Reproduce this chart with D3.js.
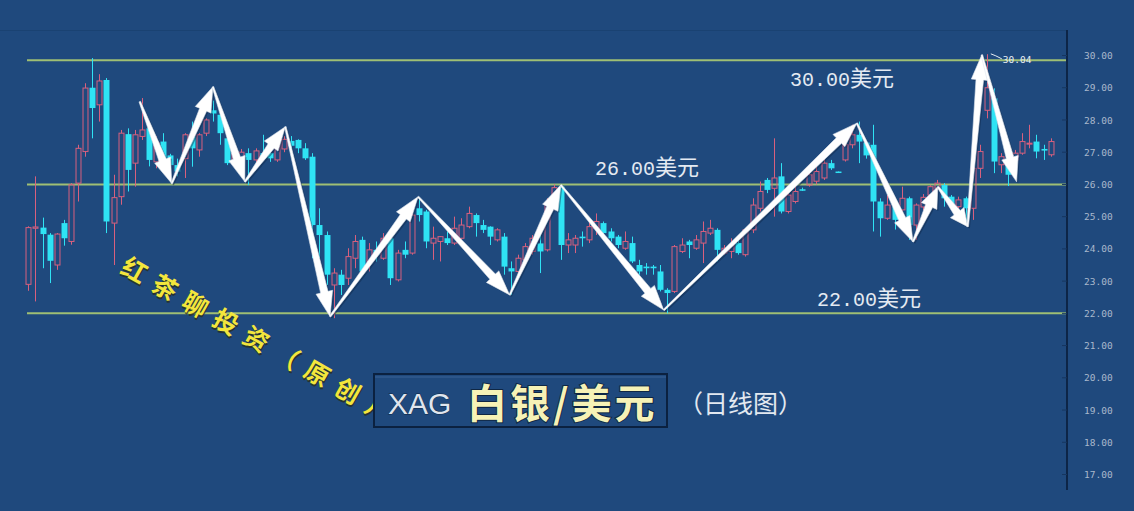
<!DOCTYPE html>
<html><head><meta charset="utf-8">
<script src="https://cdn.jsdelivr.net/npm/d3@7"></script>
<style>html,body{margin:0;padding:0;background:#1f497d;overflow:hidden}</style>
</head><body><svg id="c" width="1134" height="511"></svg>
<script>
// ---- data (daily candles, XAG/USD) ----
const opens = [22.9,24.64,24.66,24.44,23.5,24.8,24.23,26.04,27.02,29.0,28.47,29.24,24.8,25.62,27.56,26.66,27.49,27.74,26.7,27.33,26.9,26.6,26.8,27.49,27.07,27.59,28.3,28.16,27.43,26.66,26.7,26.97,26.76,26.97,26.97,26.76,27.1,27.35,27.38,27.12,26.86,24.74,24.43,22.88,23.2,23.09,23.71,24.28,23.61,23.97,23.71,24.33,23.04,23.97,23.87,25.26,25.16,24.18,24.23,24.33,24.18,24.33,24.69,25.05,24.74,24.69,24.28,24.38,23.4,23.3,23.66,23.92,24.17,23.97,25.3,25.93,24.12,24.12,24.38,24.28,24.64,24.8,24.54,24.38,24.02,24.18,23.5,23.45,23.45,23.3,22.73,22.68,23.92,24.23,24.02,24.18,24.49,24.59,23.87,23.92,24.18,23.82,24.59,25.26,26.14,25.88,26.25,25.16,25.47,25.85,25.98,26.1,26.2,26.66,26.4,26.76,27.23,27.54,27.3,27.23,25.47,24.95,25.3,25.21,25.57,24.74,25.3,25.67,25.88,25.98,25.62,25.31,25.57,25.26,26.5,28.3,28.67,26.61,26.8,26.76,26.97,27.25,27.33,27.1,26.92];
const highs = [24.7,26.25,24.97,24.49,24.49,24.9,26.04,27.23,29.14,29.92,29.42,29.3,26.3,27.69,27.74,27.69,28.68,27.8,27.5,27.59,26.95,26.8,27.59,27.95,27.59,28.05,28.6,28.26,27.69,27.07,27.1,27.12,27.12,27.54,27.0,27.35,27.5,27.5,27.4,27.28,26.97,25.26,24.54,23.4,23.35,24.02,24.43,24.38,24.18,24.23,24.49,24.38,23.97,24.23,25.16,25.57,25.21,24.69,24.4,24.54,25.0,24.95,25.31,25.1,24.9,24.7,24.64,24.49,23.61,23.82,24.18,24.43,24.43,25.57,26.0,25.98,24.49,24.43,24.54,24.9,25.1,24.85,24.64,24.43,24.54,24.38,23.66,23.56,23.5,23.5,22.78,24.12,24.33,24.28,24.43,24.85,24.9,24.64,24.12,24.33,24.33,24.64,25.57,26.09,26.2,27.43,26.66,25.78,25.98,25.9,26.4,26.6,26.81,26.76,26.4,27.33,27.85,27.95,27.3,27.85,25.57,25.67,25.4,25.93,25.62,25.41,25.7,25.98,26.14,26.04,25.67,25.62,25.62,26.61,27.23,30.04,28.98,26.97,26.9,27.07,27.59,27.85,27.54,27.23,27.43];
const lows = [22.7,22.37,23.4,22.94,23.35,24.1,24.13,25.47,26.86,27.43,27.95,24.49,23.5,25.37,25.78,25.93,27.38,26.56,26.5,26.5,26.2,26.25,26.2,26.55,26.86,27.5,27.95,27.23,26.6,26.6,26.62,25.98,26.66,26.76,26.7,26.7,27.0,27.0,26.97,26.76,23.71,23.71,22.88,21.85,22.57,22.88,23.4,23.2,23.3,23.61,23.66,22.88,22.99,23.71,23.82,24.85,24.02,23.66,23.61,24.12,24.12,24.28,24.64,24.38,24.49,24.12,24.23,23.2,22.57,23.2,23.61,23.82,23.25,23.92,25.2,23.66,23.87,23.87,24.07,24.18,24.43,24.43,24.23,24.02,23.97,23.56,23.2,23.2,23.2,22.68,22.0,22.63,23.87,23.71,23.97,23.56,24.43,23.61,23.82,23.71,23.82,23.76,24.49,25.16,25.73,25.0,25.1,25.1,25.41,25.8,25.93,26.0,26.14,26.45,26.36,26.71,27.12,26.66,26.8,24.54,24.38,24.9,24.6,24.95,24.28,24.28,25.2,25.62,25.83,25.31,25.26,25.16,24.85,24.9,26.2,28.05,26.35,26.35,25.95,26.61,26.92,27.12,26.81,26.76,26.86];
const closes = [24.66,24.68,24.46,23.63,24.46,24.33,25.99,27.12,28.99,28.37,29.21,24.85,25.59,27.59,26.45,27.54,27.69,26.76,27.3,26.81,26.6,26.4,27.54,27.12,27.54,28.0,28.2,27.59,26.66,26.97,27.0,26.76,27.04,26.81,26.81,27.23,27.4,27.2,27.12,26.81,24.74,24.43,23.2,23.25,22.88,23.76,24.23,23.3,23.97,23.82,24.33,23.09,23.87,23.82,25.05,25.05,24.23,24.33,24.38,24.18,24.64,24.74,25.1,24.8,24.59,24.38,24.59,23.45,23.3,23.71,24.07,24.33,23.92,25.36,25.9,24.12,24.28,24.33,24.33,24.69,24.85,24.49,24.33,24.12,24.23,23.61,23.3,23.4,23.4,22.73,22.63,24.07,24.12,24.12,24.28,24.54,24.64,23.97,24.02,24.12,23.87,24.59,25.36,25.78,25.83,26.2,25.16,25.67,25.78,25.83,26.3,26.4,26.66,26.5,26.38,27.23,27.54,27.33,26.9,25.47,24.95,25.36,24.9,25.57,24.74,25.36,25.6,25.93,26.04,25.57,25.36,25.52,25.26,26.5,27.02,29.0,26.71,26.86,26.3,26.97,27.33,27.28,27.02,27.05,27.33];
const yTicks = [30,29,28,27,26,25,24,23,22,21,20,19,18,17];
const levels = [29.85, 26, 22];
const levelNums = ["30.00", "26.00", "22.00"];
const levelUnit = "美元";
// trend arrows: zigzag turning points (candle number, price)
const zigIdx   = [16.7, 21.2, 27.0, 31.5, 37.2, 43.5, 55.9, 68.8, 76.0, 90.5, 117.7, 125.6, 129.1, 133.3, 135.3, 140.2];
const zigPrice = [28.57, 26.03, 29.03, 26.08, 27.79, 21.9, 25.62, 22.57, 25.98, 22.1, 27.9, 24.22, 25.93, 24.69, 30.02, 26.08];
const peakLabel = "30.04";
const watermark = "红茶聊投资（原创）";
const titleCode = "XAG";
const titleName = "白银/美元";
const titleSub = "（日线图）";

// ---- drawing ----
const svg = d3.select("#c");
const W = 1134, H = 511;
svg.append("rect").attr("width", W).attr("height", H).attr("fill", "#1f497d");

const n = opens.length;
const idx = d3.range(1, n + 1);
const x = d3.scaleBand().domain(idx).range([24.75, 1054.25]).paddingInner(0.3).paddingOuter(0.15);
const xc = i => x(i) + x.bandwidth() / 2;
const xl = d3.scaleLinear().domain([1, n]).range([xc(1), xc(n)]);
const y = d3.scaleLinear().domain([17, 30]).range([474.5, 55.5]);

const axisX = 1067;
svg.append("line").attr("x1", 0).attr("x2", axisX).attr("y1", 30.5).attr("y2", 30.5)
  .attr("stroke", "#1a4272").attr("stroke-width", 1);

// level lines
svg.selectAll("line.level").data(levels).join("line").attr("class", "level")
  .attr("x1", 27).attr("x2", axisX).attr("y1", d => y(d)).attr("y2", d => y(d))
  .attr("stroke", "#9fbf74").attr("stroke-width", 2);

// candles
const red = "#d8607e", cyan = "#2fe3f4";
const g = svg.append("g");
idx.forEach((i, k) => {
  const o = opens[k], h = highs[k], l = lows[k], c = closes[k];
  const up = c >= o;
  const col = up ? red : cyan;
  const cx = Math.round(xc(i)) + 0.5;
  const top = y(Math.max(o, c)), bot = y(Math.min(o, c));
  const bw = x.bandwidth();
  if (up) {
    g.append("line").attr("x1", cx).attr("x2", cx).attr("y1", y(h)).attr("y2", top).attr("stroke", col);
    g.append("line").attr("x1", cx).attr("x2", cx).attr("y1", bot).attr("y2", y(l)).attr("stroke", col);
    g.append("rect").attr("x", cx - bw / 2).attr("y", top).attr("width", bw).attr("height", Math.max(1, bot - top))
      .attr("fill", "none").attr("stroke", col).attr("stroke-width", 1);
  } else {
    g.append("line").attr("x1", cx).attr("x2", cx).attr("y1", y(h)).attr("y2", y(l)).attr("stroke", col);
    g.append("rect").attr("x", cx - bw / 2 - 0.5).attr("y", top).attr("width", bw + 1).attr("height", Math.max(1.5, bot - top))
      .attr("fill", col);
  }
});

// arrows
function arrowPath(ax, ay, bx, by) {
  const dx = bx - ax, dy = by - ay, L = Math.hypot(dx, dy);
  const ux = dx / L, uy = dy / L, px = -uy, py = ux;
  const hl = Math.min(25, L * 0.35), hw = 8.5, sw = 3.8, tw = 0.8;
  const nx = bx - ux * hl, ny = by - uy * hl;
  const pts = [
    [ax + px * tw, ay + py * tw],
    [nx + px * sw, ny + py * sw],
    [nx + px * hw, ny + py * hw],
    [bx, by],
    [nx - px * hw, ny - py * hw],
    [nx - px * sw, ny - py * sw],
    [ax - px * tw, ay - py * tw]
  ];
  return "M" + pts.map(p => p.join(",")).join("L") + "Z";
}
const ag = svg.append("g");
for (let k = 0; k < zigIdx.length - 1; k++) {
  const ax = xl(zigIdx[k]), ay = y(zigPrice[k]), bx = xl(zigIdx[k + 1]), by = y(zigPrice[k + 1]);
  ag.append("path").attr("d", arrowPath(ax + 1.5, ay + 1.5, bx + 1.5, by + 1.5)).attr("fill", "#0e2646").attr("opacity", 0.45);
  ag.append("path").attr("d", arrowPath(ax, ay, bx, by)).attr("fill", "#ffffff").attr("stroke", "#dfe6ee").attr("stroke-width", 0.6);
}

// peak label
const pkX = xl(135.3), pkY = y(30.02);
svg.append("path").attr("d", `M${pkX + 9},${pkY - 1}L${pkX + 14},${pkY + 1}L${pkX + 20},${pkY + 4}`)
  .attr("fill", "none").attr("stroke", "#e6ecf3").attr("stroke-width", 1);
svg.append("text").attr("x", pkX + 21).attr("y", pkY + 8).text(peakLabel)
  .attr("font-family", "DejaVu Sans Mono").attr("font-size", 9.5).attr("fill", "#e9eef5");

// level labels
const lblPos = [[790, 86], [595, 175], [817, 306]];
levelNums.forEach((t, k) => {
  const tx = svg.append("text").attr("x", lblPos[k][0]).attr("y", lblPos[k][1]).attr("fill", "#e4eaf2");
  tx.append("tspan").text(t).attr("font-family", "Liberation Mono").attr("font-size", 20);
  tx.append("tspan").text(levelUnit).attr("font-family", "Noto Sans CJK SC").attr("font-size", 22).attr("dx", 0);
});

// right axis
svg.append("line").attr("x1", axisX).attr("x2", axisX).attr("y1", 30).attr("y2", 490)
  .attr("stroke", "#0d2547").attr("stroke-width", 2);
const axis = d3.axisRight(y).tickValues(yTicks).tickFormat(d3.format(".2f")).tickSize(0).tickPadding(17);
const axG = svg.append("g").attr("transform", `translate(${axisX},0)`).call(axis);
axG.select(".domain").remove();
axG.selectAll("text").attr("font-family", "DejaVu Sans Mono").attr("font-size", 9.5).attr("fill", "#a9b8cc");
svg.selectAll("line.tk").data(yTicks).join("line").attr("class", "tk")
  .attr("x1", axisX - 5).attr("x2", axisX).attr("y1", d => y(d)).attr("y2", d => y(d))
  .attr("stroke", "#163660").attr("stroke-width", 1);

// watermark (diagonal)
const wm = svg.append("g").attr("transform", "translate(119,272) rotate(29.5)");
const wmStyle = s => s.attr("font-family", "Noto Sans CJK SC").attr("font-weight", 700).attr("font-size", 25).attr("letter-spacing", 10);
wmStyle(wm.append("text").attr("x", 1.5).attr("y", 1.5).text(watermark)).attr("fill", "#2b2a12").attr("opacity", 0.7);
wmStyle(wm.append("text").attr("x", 0).attr("y", 0).text(watermark)).attr("fill", "#f3e63c");

// title box
svg.append("rect").attr("x", 374).attr("y", 374).attr("width", 293).attr("height", 53)
  .attr("fill", "#1f497d").attr("stroke", "#0b2140").attr("stroke-width", 2);
svg.append("line").attr("x1", 375).attr("x2", 666).attr("y1", 377).attr("y2", 377).attr("stroke", "#3b6396").attr("stroke-width", 1);
svg.append("text").attr("x", 388).attr("y", 414).text(titleCode)
  .attr("font-family", "Liberation Sans").attr("font-size", 30)
  .attr("fill", "#dfe5ee").attr("stroke", "#0f2744").attr("stroke-width", 0.8).attr("paint-order", "stroke");
svg.append("text").attr("x", 467).attr("y", 418).text(titleName)
  .attr("font-family", "Noto Sans CJK SC").attr("font-weight", 700).attr("font-size", 40).attr("letter-spacing", 3)
  .attr("fill", "#f6f2b6").attr("stroke", "#0f2744").attr("stroke-width", 2).attr("paint-order", "stroke");
svg.append("text").attr("x", 678).attr("y", 413).text(titleSub)
  .attr("font-family", "Noto Sans CJK SC").attr("font-size", 25)
  .attr("fill", "#e2e8f0");
</script></body></html>
